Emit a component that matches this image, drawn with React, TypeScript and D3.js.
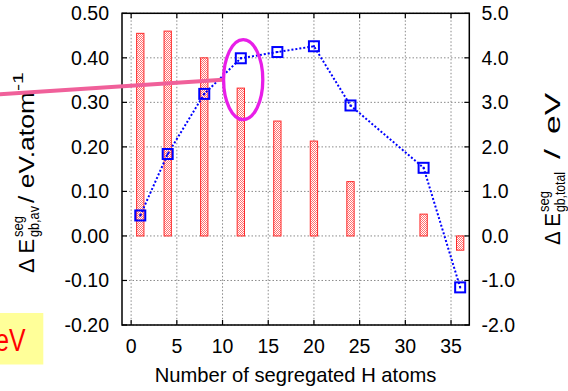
import React from 'react';
import * as d3 from 'd3';

const nAtoms = [1, 4, 8, 12, 16, 20, 24, 32, 36];
const avgSeg = [0.455, 0.46, 0.4, 0.332, 0.258, 0.213, 0.122, 0.049, -0.032];
const totalSeg = [0.46, 1.84, 3.19, 3.99, 4.13, 4.26, 2.93, 1.53, -1.155];
const xTicks = [0, 5, 10, 15, 20, 25, 30, 35];
const yLeftTicks = [-0.2, -0.1, 0, 0.1, 0.2, 0.3, 0.4, 0.5];
const yRightTicks = [-2, -1, 0, 1, 2, 3, 4, 5];

const W = 568;
const H = 391;
const P = { left: 122, right: 469.3, top: 13.3, bottom: 325 };
const FONT = '"Liberation Sans", Arial, Helvetica, sans-serif';

export default function App() {
  const x = d3.scaleLinear().domain([-1, 37]).range([P.left, P.right]);
  const yL = d3.scaleLinear().domain([-0.2, 0.5]).range([P.bottom, P.top]);
  const yR = d3.scaleLinear().domain([-2, 5]).range([P.bottom, P.top]);
  const half = 0.4;
  const lineGen = d3
    .line<number>()
    .x((_, i) => x(nAtoms[i]))
    .y((d) => yR(d));

  return (
    <svg
      width={W}
      height={H}
      style={{ position: 'absolute', left: 0, top: 0, background: '#fff' }}
      fontFamily={FONT}
    >
      <defs>
        <pattern id="check" width={2} height={2} patternUnits="userSpaceOnUse">
          <rect width={2} height={2} fill="#ffffff" />
          <rect x={0} y={0} width={1} height={1} fill="#ff7070" />
          <rect x={1} y={1} width={1} height={1} fill="#ff7070" />
        </pattern>
      </defs>
      <rect width={W} height={H} fill="#fff" />

      {/* grid */}
      {xTicks.map((t) => (
        <line key={'gx' + t} x1={x(t)} x2={x(t)} y1={P.top} y2={P.bottom} stroke="#8a8a8a" strokeWidth={1} strokeDasharray="1.5,2" />
      ))}
      {yLeftTicks.map((t) => (
        <line key={'gy' + t} x1={P.left} x2={P.right} y1={yL(t)} y2={yL(t)} stroke="#8a8a8a" strokeWidth={1} strokeDasharray="1.5,2" />
      ))}

      {/* bars */}
      {nAtoms.map((n, i) => {
        const v = avgSeg[i];
        const y0 = yL(0);
        const y1 = yL(v);
        return (
          <rect
            key={'b' + n}
            x={x(n - half)}
            width={x(n + half) - x(n - half)}
            y={Math.min(y0, y1)}
            height={Math.abs(y1 - y0)}
            fill="url(#check)"
            stroke="#ff2a2a"
            strokeWidth={1}
          />
        );
      })}

      {/* line */}
      <path d={lineGen(totalSeg) || ''} fill="none" stroke="#0000ff" strokeWidth={2} strokeDasharray="2,2" />
      {nAtoms.map((n, i) => (
        <g key={'m' + n}>
          <rect x={x(n) - 5} y={yR(totalSeg[i]) - 5} width={10} height={10} fill="none" stroke="#0000ff" strokeWidth={2} />
          <rect x={x(n) - 1} y={yR(totalSeg[i]) - 1} width={2} height={2} fill="#0000ff" />
        </g>
      ))}

      {/* frame */}
      <rect x={P.left} y={P.top} width={P.right - P.left} height={P.bottom - P.top} fill="none" stroke="#000" strokeWidth={1.5} />
      {xTicks.map((t) => (
        <g key={'tx' + t}>
          <line x1={x(t)} x2={x(t)} y1={P.bottom} y2={P.bottom - 5} stroke="#000" strokeWidth={1.2} />
          <line x1={x(t)} x2={x(t)} y1={P.top} y2={P.top + 5} stroke="#000" strokeWidth={1.2} />
          <text x={x(t)} y={352.7} textAnchor="middle" fontSize={19.5} fill="#000">{t}</text>
        </g>
      ))}
      {yLeftTicks.map((t) => (
        <g key={'tl' + t}>
          <line x1={P.left} x2={P.left + 5} y1={yL(t)} y2={yL(t)} stroke="#000" strokeWidth={1.2} />
          <text x={109} y={yL(t)} dy="0.35em" textAnchor="end" fontSize={19.5} fill="#000">{t.toFixed(2)}</text>
        </g>
      ))}
      {yRightTicks.map((t) => (
        <g key={'tr' + t}>
          <line x1={P.right - 5} x2={P.right} y1={yR(t)} y2={yR(t)} stroke="#000" strokeWidth={1.2} />
          <text x={481.5} y={yR(t)} dy="0.35em" textAnchor="start" fontSize={19.5} fill="#000">{t.toFixed(1)}</text>
        </g>
      ))}

      {/* x title */}
      <text x={295.5} y={382} textAnchor="middle" fontSize={20.2} fill="#000">Number of segregated H atoms</text>

      {/* left y title */}
      <g transform="translate(33.5,273) rotate(-90)" fill="#000">
        <text x={0} y={0} fontSize={22} textLength={34} lengthAdjust="spacingAndGlyphs">Δ E</text>
        <text x={36} y={-10.5} fontSize={14} textLength={21} lengthAdjust="spacingAndGlyphs">seg</text>
        <text x={36} y={5} fontSize={14} textLength={31} lengthAdjust="spacingAndGlyphs">gb,av</text>
        <text x={70} y={0} fontSize={22} textLength={111} lengthAdjust="spacingAndGlyphs">/ eV.atom</text>
        <text x={182} y={-10.5} fontSize={14} textLength={19} lengthAdjust="spacingAndGlyphs">-1</text>
      </g>

      {/* right y title */}
      <g transform="translate(559.5,245) rotate(-90)" fill="#000">
        <text x={0} y={0} fontSize={22} textLength={32} lengthAdjust="spacingAndGlyphs">Δ E</text>
        <text x={33} y={-10.5} fontSize={14} textLength={21} lengthAdjust="spacingAndGlyphs">seg</text>
        <text x={33} y={5} fontSize={14} textLength={40} lengthAdjust="spacingAndGlyphs">gb,total</text>
        <text x={86} y={0} fontSize={22} textLength={10} lengthAdjust="spacingAndGlyphs">/</text>
        <text x={111} y={0} fontSize={22} textLength={41} lengthAdjust="spacingAndGlyphs">eV</text>
      </g>

      {/* annotations */}
      <line x1={x(-14.4)} y1={yL(0.318)} x2={x(10.04)} y2={yL(0.351)} stroke="#f0609a" strokeWidth={4} />
      <ellipse cx={x(12.26)} cy={yL(0.351)} rx={19.6} ry={40} fill="none" stroke="#e81ee8" strokeWidth={3.3} />

      <rect x={0} y={313} width={43.3} height={51.5} fill="#ffff99" />
      <text transform="translate(25.5,351) scale(0.8,1)" textAnchor="end" fontSize={31} fill="#ff0000">eV</text>
    </svg>
  );
}
